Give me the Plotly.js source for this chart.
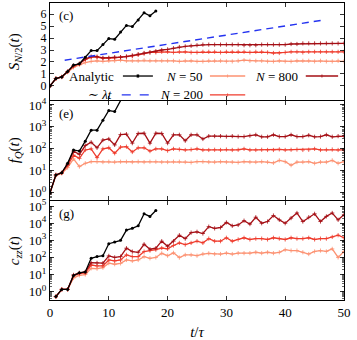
<!DOCTYPE html>
<html>
<head>
<meta charset="utf-8">
<script src="https://cdn.plot.ly/plotly-3.0.1.min.js"></script>
<style>
  body { margin: 0; background: white; }
  #chart { width: 357px; height: 340px; }
</style>
</head>
<body>
<div id="chart"></div>
<script>
// time grid (t / tau)
const t = [0, 1, 2, 3, 4, 5, 6, 7, 8, 9, 10, 11, 12, 13, 14, 15, 16, 17, 18, 19, 20,
  21, 22, 23, 24, 25, 26, 27, 28, 29, 30, 31, 32, 33, 34, 35, 36, 37, 38, 39, 40,
  41, 42, 43, 44, 45, 46, 47, 48, 49, 50];
const tAnalytic = [0, 1, 2, 3, 4, 5, 6, 7, 8, 9, 10, 11, 12, 13, 14, 15, 16, 17, 18];

// panel (c): half-chain entropy
const sAnalytic = [0, 0.62, 0.75, 1.2, 1.75, 1.85, 2.4, 2.95, 2.95, 3.45, 3.95, 3.9, 4.5,
  5.05, 4.95, 5.5, 6.1, 5.85, 6.25];
const sN50 = [0, 0.62, 0.75, 1.15, 1.55, 1.75, 1.95, 2.05, 2.1, 2.05, 2.1, 2.1, 2.15, 2.1,
  2.1, 2.1, 2.15, 2.1, 2.1, 2.1, 2.1, 2.1, 2.05, 2.1, 2.1, 2.05, 2.05, 2.1, 2.1, 2.1, 2.05,
  2.05, 2.1, 2.15, 2.1, 2.1, 2.1, 2.05, 2.05, 2.1, 2.05, 2.05, 2.1, 2.1, 2.1, 2.05, 2.1,
  2.05, 2.05, 2.1, 2.05];
const sN200 = [0, 0.62, 0.75, 1.2, 1.65, 1.85, 2.2, 2.4, 2.4, 2.3, 2.3, 2.35, 2.4, 2.45,
  2.5, 2.6, 2.7, 2.8, 2.8, 2.85, 2.85, 2.8, 2.85, 2.85, 2.8, 2.8, 2.85, 2.85, 2.85, 2.8,
  2.85, 2.85, 2.85, 2.85, 2.8, 2.85, 2.85, 2.8, 2.75, 2.75, 2.8, 2.85, 2.85, 2.8, 2.85,
  2.85, 2.85, 2.85, 2.85, 2.85, 2.85];
const sN800 = [0, 0.62, 0.75, 1.2, 1.7, 1.85, 2.25, 2.45, 2.45, 2.35, 2.35, 2.4, 2.4, 2.45,
  2.55, 2.65, 2.75, 2.8, 2.9, 3.0, 3.05, 3.15, 3.25, 3.3, 3.35, 3.4, 3.45, 3.45, 3.45, 3.45,
  3.45, 3.45, 3.45, 3.4, 3.4, 3.4, 3.45, 3.45, 3.45, 3.45, 3.45, 3.5, 3.5, 3.55, 3.55,
  3.55, 3.55, 3.55, 3.55, 3.55, 3.55];
const tLambda = [2.5, 46.5];
const sLambda = [2.15, 5.5];

// panel (e): quantum Fisher information
const fAnalytic = [1, 6.5, 8.1, 22, 89, 79, 224, 708, 708, 2000, 5600, 5000, 17800, 50000,
  45000, 158000, 447000, 398000, 1260000];
const fN50 = [1, 6, 7.6, 14, 35, 15.5, 22, 26, 26, 25, 26, 25, 26, 26, 25, 26, 25, 26, 26,
  25, 25, 26, 26, 25, 24, 26, 26, 25, 25, 26, 25, 25, 24, 26, 25, 25, 26, 25, 23, 30, 26,
  18, 25, 25, 26, 22, 25, 25, 30, 22, 26];
const fN200 = [1, 6.5, 8.1, 17.8, 52, 37, 89, 100, 40, 100, 112, 63, 120, 126, 72, 112,
  112, 79, 100, 100, 83, 100, 95, 89, 93, 100, 89, 89, 91, 89, 93, 89, 91, 100, 89, 89, 91,
  89, 89, 95, 89, 91, 93, 89, 91, 100, 89, 91, 93, 89, 89];
const fN800 = [1, 6.5, 8.1, 20, 79, 56, 141, 200, 112, 251, 282, 151, 447, 468, 182, 501,
  513, 182, 513, 501, 182, 437, 437, 234, 437, 437, 282, 380, 380, 380, 363, 380, 363, 363,
  398, 437, 355, 355, 437, 363, 363, 437, 363, 363, 417, 355, 363, 437, 355, 380, 380];

// panel (g): zz correlator
const cAnalytic = [null, 0.51, 1.35, 1.35, 8.9, 12.6, 14.1, 89, 112, 126, 631, 794, 1000,
  3980, 5010, 7080, 35500, 25100, 56200];
const cN50 = [null, 0.51, 1.35, 1.35, 6.3, 8.9, 10, 23, 22, 25, 46, 40, 45, 71, 63, 71, 112,
  89, 100, 174, 126, 186, 98, 141, 141, 126, 158, 174, 158, 158, 178, 158, 178, 178, 178,
  200, 178, 200, 178, 200, 282, 251, 251, 200, 158, 224, 251, 224, 316, 100, 224];
const cN200 = [null, 0.51, 1.35, 1.35, 8.3, 11.2, 12.6, 36, 32, 32, 71, 63, 71, 141, 112,
  112, 219, 251, 282, 355, 316, 501, 708, 562, 708, 891, 708, 1260, 891, 891, 1410, 891,
  1120, 1410, 1120, 1260, 1260, 1120, 1410, 1260, 1120, 1410, 1260, 1260, 1410, 1120, 1260,
  1260, 1580, 2000, 1410];
const cN800 = [null, 0.51, 1.35, 1.35, 9.5, 12.6, 14.1, 50, 48, 46, 123, 100, 112, 347, 219,
  200, 589, 302, 347, 891, 447, 891, 2000, 1260, 2820, 3160, 2510, 6310, 5010, 5620, 11200,
  7080, 7940, 14100, 8910, 22400, 10000, 12600, 28200, 15800, 10000, 20000, 39800, 12600,
  22400, 35500, 12600, 25100, 39800, 15800, 31600];

// labels
const panelLetters = ["(c)", "(e)", "(g)"];
const yTitles = [
  "<i>S</i><sub><i>N</i>/2</sub>(<i>t</i>)",
  "<i>f</i><sub><i>Q</i></sub>(<i>t</i>)",
  "<i>c</i><sub><i>zz</i></sub>(<i>t</i>)",
];
const sTickVals = [0, 1, 2, 3, 4, 5, 6];
const fTickVals = [1, 10, 100, 1000, 10000];
const cTickVals = [1, 10, 100, 1000, 10000, 100000];
const powText = ["10<sup>0</sup>", "10<sup>1</sup>", "10<sup>2</sup>", "10<sup>3</sup>",
  "10<sup>4</sup>", "10<sup>5</sup>"];
const legendNames = ["Analytic", "<i>N</i> = 50", "<i>N</i> = 800", "∼ <i>λt</i>", "<i>N</i> = 200"];

const SERIF = "Liberation Serif, DejaVu Serif, serif";
const C_ANA = "#000000";
const C_50 = "#fc9272";
const C_200 = "#ef3b2c";
const C_800 = "#a50f15";
const C_LAM = "#2433f0";

function Curve(x, y, n, color, symbol) {
  return {
    x: x,
    y: y,
    xaxis: "x" + (n === 1 ? "" : n),
    yaxis: "y" + (n === 1 ? "" : n),
    mode: "lines+markers",
    line: { color: color, width: 1.3 },
    marker: symbol === "dot"
      ? { symbol: "circle", size: 3, color: color }
      : { symbol: "cross-thin", size: 3, color: color, line: { color: color, width: 0.8 } },
    showlegend: false,
    hoverinfo: "skip",
  };
}

function BaseAxis(extra) {
  return Object.assign(
    {
      showline: true,
      linecolor: "black",
      linewidth: 1,
      mirror: "allticks",
      ticks: "inside",
      ticklen: 4,
      tickwidth: 0.8,
      tickcolor: "black",
      showgrid: false,
      zeroline: false,
      tickfont: { family: SERIF, size: 13, color: "black" },
    },
    extra
  );
}

function LegendSample(x0, x1, y, color, dash, symbol) {
  const out = [
    { type: "line", xref: "x", yref: "y", x0: x0, x1: x1, y0: y, y1: y,
      line: { color: color, width: 1.3, dash: dash } },
  ];
  if (symbol) {
    const xm = (x0 + x1) / 2;
    out.push({ type: "line", xref: "x", yref: "y", x0: xm, x1: xm, y0: y - 0.13, y1: y + 0.13,
      line: { color: color, width: symbol === "dot" ? 2.5 : 0.8 } });
  }
  return out;
}

const data = [
  Curve(t, sN50, 1, C_50),
  Curve(t, sN200, 1, C_200),
  Curve(t, sN800, 1, C_800),
  Curve(tAnalytic, sAnalytic, 1, C_ANA, "dot"),
  {
    x: tLambda, y: sLambda, xaxis: "x", yaxis: "y", mode: "lines",
    line: { color: C_LAM, width: 1.4, dash: "7px,5px" }, showlegend: false, hoverinfo: "skip",
  },
  Curve(t, fN50, 2, C_50),
  Curve(t, fN200, 2, C_200),
  Curve(t, fN800, 2, C_800),
  Curve(tAnalytic, fAnalytic, 2, C_ANA, "dot"),
  Curve(t, cN50, 3, C_50),
  Curve(t, cN200, 3, C_200),
  Curve(t, cN800, 3, C_800),
  Curve(tAnalytic, cAnalytic, 3, C_ANA, "dot"),
];

const domains = [[0.6734, 1], [0.3367, 0.67], [0, 0.3333]];
const minorLog = { ticks: "inside", ticklen: 2, tickwidth: 0.6, tickcolor: "black", dtick: "D1" };

const annotations = [];
domains.forEach((d, i) => {
  const n = i === 0 ? "" : i + 1;
  annotations.push({
    text: panelLetters[i], xref: "x" + n + " domain", yref: "y" + n + " domain",
    x: 0.025, y: 0.97, xanchor: "left", yanchor: "top", showarrow: false,
    font: { family: SERIF, size: 13, color: "black" },
  });
  annotations.push({
    text: yTitles[i], xref: "paper", yref: "paper", x: -0.12, y: (d[0] + d[1]) / 2,
    textangle: -90, showarrow: false, xanchor: "center", yanchor: "middle",
    font: { family: SERIF, size: 15, color: "black" },
  });
});

// hand-made legend (text left of the sample, like the original)
const legendRows = [
  [legendNames[0], 11.3, 0.83, 12.4, 17.5, C_ANA, "solid", "dot"],
  [legendNames[1], 26.4, 0.83, 27.2, 33.2, C_50, "solid", "plus"],
  [legendNames[2], 42.6, 0.83, 43.5, 49.0, C_800, "solid", "plus"],
  [legendNames[3], 10.8, -0.75, 12.2, 17.5, C_LAM, "dash", null],
  [legendNames[4], 26.4, -0.75, 27.2, 33.2, C_200, "solid", "plus"],
];
const shapes = [];
legendRows.forEach((r) => {
  annotations.push({
    text: r[0], xref: "x", yref: "y", x: r[1], y: r[2], xanchor: "right", yanchor: "middle",
    showarrow: false, font: { family: SERIF, size: 13, color: "black" },
  });
  shapes.push(...LegendSample(r[3], r[4], r[2], r[5], r[6], r[7]));
});

const layout = {
  width: 357,
  height: 340,
  margin: { l: 50, r: 13, t: 3, b: 40 },
  paper_bgcolor: "white",
  plot_bgcolor: "white",
  showlegend: false,
  xaxis: BaseAxis({ domain: [0, 1], anchor: "y", range: [0, 50], dtick: 10, showticklabels: false }),
  xaxis2: BaseAxis({ domain: [0, 1], anchor: "y2", range: [0, 50], dtick: 10, showticklabels: false }),
  xaxis3: BaseAxis({
    domain: [0, 1], anchor: "y3", range: [0, 50], dtick: 10,
    title: { text: "<i>t</i>/<i>τ</i>", font: { family: SERIF, size: 15, color: "black" }, standoff: 7 },
  }),
  yaxis: BaseAxis({
    domain: domains[0], anchor: "x", range: [-1.17, 6.92],
    tickmode: "array", tickvals: sTickVals,
    tickfont: { family: SERIF, size: 12, color: "black" },
  }),
  yaxis2: BaseAxis({
    domain: domains[1], anchor: "x2", type: "log", range: [-0.33, 4.18],
    tickmode: "array", tickvals: fTickVals, ticktext: powText.slice(0, 5), minor: minorLog,
  }),
  yaxis3: BaseAxis({
    domain: domains[2], anchor: "x3", type: "log", range: [-0.49, 5.3],
    tickmode: "array", tickvals: cTickVals, ticktext: powText, minor: minorLog,
  }),
  annotations: annotations,
  shapes: shapes,
};

Plotly.newPlot("chart", data, layout, { staticPlot: true, displayModeBar: false });
</script>
</body>
</html>
